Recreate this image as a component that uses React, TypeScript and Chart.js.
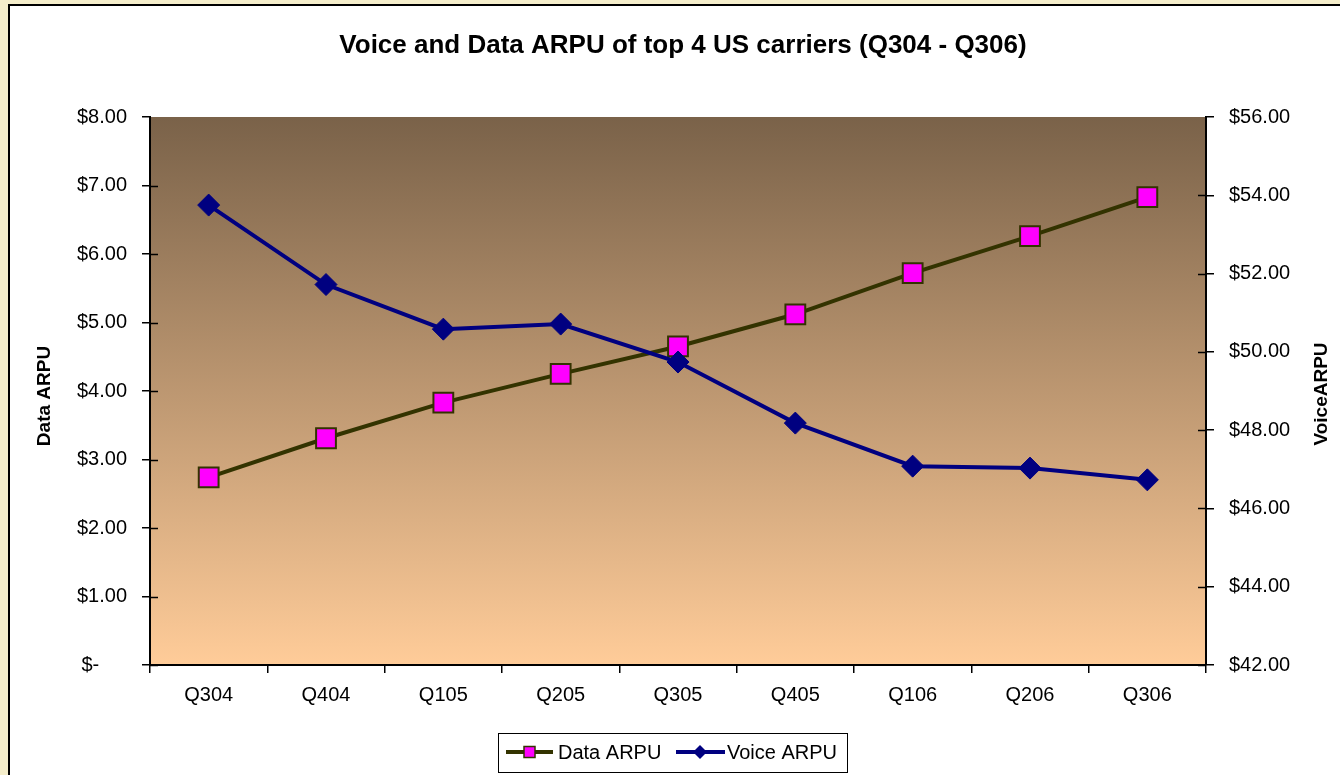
import React, { useEffect, useRef } from "react";
import { Chart, registerables } from "chart.js";

Chart.register(...registerables);

const categories = ["Q304", "Q404", "Q105", "Q205", "Q305", "Q405", "Q106", "Q206", "Q306"];
const dataArpu = [2.74, 3.31, 3.83, 4.25, 4.65, 5.12, 5.72, 6.26, 6.83];
const voiceArpu = [53.75, 51.72, 50.58, 50.71, 49.74, 48.18, 47.08, 47.03, 46.73];
const titleText = "Voice and Data ARPU of top 4 US carriers (Q304 - Q306)";
const leftTitle = "Data ARPU";
const rightTitle = "VoiceARPU";
const legendLabels = ["Data ARPU", "Voice ARPU"];

const FONT = "'Liberation Sans', Arial, sans-serif";

const decorPlugin = {
  id: "decor",
  beforeDraw(chart: any) {
    const { ctx, width, height, chartArea } = chart;
    ctx.save();
    ctx.fillStyle = "#F5EECB";
    ctx.fillRect(0, 0, width, height);
    ctx.fillStyle = "#FFFFFF";
    ctx.fillRect(9, 5, width - 9, height - 5);
    ctx.strokeStyle = "#000";
    ctx.lineWidth = 2;
    ctx.beginPath();
    ctx.moveTo(9, height);
    ctx.lineTo(9, 5);
    ctx.lineTo(width, 5);
    ctx.stroke();
    const g = ctx.createLinearGradient(0, chartArea.top, 0, chartArea.bottom);
    g.addColorStop(0, "#7A6249");
    g.addColorStop(1, "#FFCC99");
    ctx.fillStyle = g;
    ctx.fillRect(chartArea.left, chartArea.top, chartArea.right - chartArea.left, chartArea.bottom - chartArea.top);
    ctx.restore();
  },
  afterDraw(chart: any) {
    const { ctx, chartArea, scales } = chart;
    ctx.save();
    // inner tick marks (not at the top end)
    ctx.strokeStyle = "#000";
    ctx.lineWidth = 1.5;
    const yl = scales.y;
    const yr = scales.y1;
    yl.ticks.forEach((t: any, i: number) => {
      if (i === yl.ticks.length - 1) return;
      const y = Math.round(yl.getPixelForValue(t.value)) + 0.5;
      ctx.beginPath();
      ctx.moveTo(chartArea.left, y);
      ctx.lineTo(chartArea.left + 8, y);
      ctx.stroke();
    });
    yr.ticks.forEach((t: any, i: number) => {
      if (i === yr.ticks.length - 1) return;
      const y = Math.round(yr.getPixelForValue(t.value)) + 0.5;
      ctx.beginPath();
      ctx.moveTo(chartArea.right, y);
      ctx.lineTo(chartArea.right - 8, y);
      ctx.stroke();
    });
    // title
    ctx.fillStyle = "#000";
    ctx.font = `bold 26px ${FONT}`;
    ctx.textAlign = "center";
    ctx.textBaseline = "middle";
    ctx.fillText(titleText, 683, 46);
    // axis titles
    ctx.font = `bold 19px ${FONT}`;
    ctx.save();
    ctx.translate(45, 396);
    ctx.rotate(-Math.PI / 2);
    ctx.fillText(leftTitle, 0, 0);
    ctx.restore();
    ctx.save();
    ctx.translate(1322, 394);
    ctx.rotate(-Math.PI / 2);
    ctx.fillText(rightTitle, 0, 0);
    ctx.restore();
    // legend
    const ds = chart.data.datasets;
    ctx.fillStyle = "#fff";
    ctx.fillRect(498, 733, 349, 39);
    ctx.strokeStyle = "#000";
    ctx.lineWidth = 1;
    ctx.strokeRect(498.5, 733.5, 349, 39);
    const ly = 752;
    // item 1
    ctx.strokeStyle = ds[0].borderColor;
    ctx.lineWidth = 4;
    ctx.beginPath();
    ctx.moveTo(506, ly);
    ctx.lineTo(553, ly);
    ctx.stroke();
    ctx.fillStyle = ds[0].pointBackgroundColor;
    ctx.fillRect(524, ly - 5.5, 11, 11);
    ctx.lineWidth = 1.5;
    ctx.strokeStyle = ds[0].pointBorderColor;
    ctx.strokeRect(524, ly - 5.5, 11, 11);
    ctx.fillStyle = "#000";
    ctx.font = `20px ${FONT}`;
    ctx.textAlign = "left";
    ctx.fillText(legendLabels[0], 558, ly + 1);
    // item 2
    ctx.strokeStyle = ds[1].borderColor;
    ctx.lineWidth = 4;
    ctx.beginPath();
    ctx.moveTo(676, ly);
    ctx.lineTo(725, ly);
    ctx.stroke();
    ctx.fillStyle = ds[1].pointBackgroundColor;
    ctx.beginPath();
    ctx.moveTo(700, ly - 7);
    ctx.lineTo(707, ly);
    ctx.lineTo(700, ly + 7);
    ctx.lineTo(693, ly);
    ctx.closePath();
    ctx.fill();
    ctx.fillStyle = "#000";
    ctx.fillText(legendLabels[1], 727, ly + 1);
    ctx.restore();
  },
};

export default function App() {
  const ref = useRef<HTMLCanvasElement>(null);
  useEffect(() => {
    document.body.style.margin = "0";
    const chart = new Chart(ref.current as HTMLCanvasElement, {
      type: "line",
      data: {
        labels: categories,
        datasets: [
          {
            label: legendLabels[0],
            data: dataArpu,
            yAxisID: "y",
            borderColor: "#333300",
            borderWidth: 4,
            tension: 0,
            pointStyle: "rect",
            pointRadius: 14,
            pointHoverRadius: 14,
            pointBackgroundColor: "#FF00FF",
            pointBorderColor: "#333300",
            pointBorderWidth: 2,
            order: 2,
          },
          {
            label: legendLabels[1],
            data: voiceArpu,
            yAxisID: "y1",
            borderColor: "#000080",
            borderWidth: 4,
            tension: 0,
            pointStyle: "rectRot",
            pointRadius: 11,
            pointHoverRadius: 11,
            pointBackgroundColor: "#000080",
            pointBorderColor: "#000080",
            pointBorderWidth: 1,
            order: 1,
          },
        ],
      },
      options: {
        responsive: false,
        animation: false,
        layout: { padding: { top: 117, left: 0, right: 0, bottom: 0 } },
        plugins: { legend: { display: false }, title: { display: false }, tooltip: { enabled: false } },
        scales: {
          x: {
            offset: true,
            grid: { offset: true, drawOnChartArea: false, drawTicks: true, tickLength: 8, color: "#000", lineWidth: 1.5 },
            border: { display: true, color: "#000", width: 2 },
            ticks: { color: "#000", font: { family: FONT, size: 20 }, padding: 10, maxRotation: 0 },
            afterFit: (s: any) => {
              s.height = 110;
            },
          },
          y: {
            position: "left",
            min: 0,
            max: 8,
            grid: { drawOnChartArea: false, tickLength: 8, color: "#000", lineWidth: 1.5 },
            border: { display: true, color: "#000", width: 2 },
            ticks: {
              stepSize: 1,
              color: "#000",
              padding: 15,
              font: { family: FONT, size: 20 },
              callback: (v: any) => (Number(v) === 0 ? "$-     " : "$" + Number(v).toFixed(2)),
            },
            afterFit: (s: any) => {
              s.width = 150;
            },
          },
          y1: {
            position: "right",
            min: 42,
            max: 56,
            grid: { drawOnChartArea: false, tickLength: 8, color: "#000", lineWidth: 1.5 },
            border: { display: true, color: "#000", width: 2 },
            ticks: {
              stepSize: 2,
              color: "#000",
              padding: 15,
              font: { family: FONT, size: 20 },
              callback: (v: any) => "$" + Number(v).toFixed(2),
            },
            afterFit: (s: any) => {
              s.width = 134;
            },
          },
        },
      },
      plugins: [decorPlugin],
    });
    return () => chart.destroy();
  }, []);
  return (
    <div style={{ position: "absolute", left: 0, top: 0, width: 1340, height: 775 }}>
      <canvas ref={ref} width={1340} height={775} />
    </div>
  );
}
